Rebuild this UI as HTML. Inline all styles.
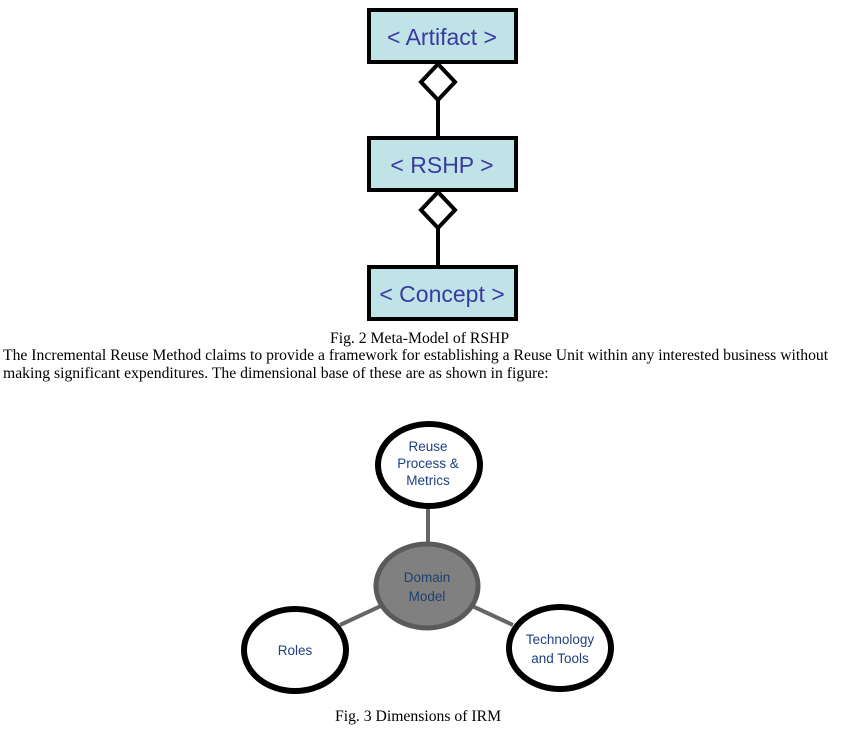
<!DOCTYPE html>
<html><head><style>
body{margin:0;width:854px;height:735px;background:#fff;position:relative;overflow:hidden;font-family:"Liberation Serif",serif;}
.t{position:absolute;font-size:15.7px;line-height:18px;color:#000;white-space:nowrap;}
</style></head><body>
<svg width="854" height="735" style="position:absolute;left:0;top:0">
<g stroke="#000" stroke-width="4" fill="#bfe3e6">
<rect x="369" y="10" width="147" height="52"/>
<rect x="369" y="138" width="147" height="52"/>
<rect x="369" y="267" width="147" height="52"/>
</g>
<g font-family="Liberation Sans, sans-serif" font-size="23" fill="#3a3aa0" text-anchor="middle">
<text x="442" y="45">&lt; Artifact &gt;</text>
<text x="442" y="173">&lt; RSHP &gt;</text>
<text x="442" y="302">&lt; Concept &gt;</text>
</g>
<g stroke="#000" stroke-width="4" fill="#fff">
<line x1="438" y1="100" x2="438" y2="138"/>
<line x1="438" y1="228" x2="438" y2="267"/>
<polygon points="438,64 455,82 438,100 421,82"/>
<polygon points="438,192 455,210 438,228 421,210"/>
</g>
<g stroke="#666" stroke-width="4">
<line x1="428" y1="506" x2="428" y2="545"/>
<line x1="340" y1="625" x2="383" y2="605"/>
<line x1="470" y1="605" x2="513" y2="625"/>
</g>
<g stroke="#000" stroke-width="6" fill="#fff">
<ellipse cx="429" cy="465" rx="51" ry="41"/>
<ellipse cx="295" cy="650" rx="51" ry="41"/>
<ellipse cx="560" cy="648" rx="51" ry="41"/>
</g>
<ellipse cx="427" cy="586" rx="51" ry="42" fill="#808080" stroke="#5a5a5a" stroke-width="5"/>
<g font-family="Liberation Sans, sans-serif" font-size="13.5" fill="#1f3f80" text-anchor="middle">
<text x="428" y="451">Reuse</text>
<text x="428" y="468">Process &amp;</text>
<text x="428" y="485">Metrics</text>
<text x="427" y="582" fill="#1f3f70">Domain</text>
<text x="427" y="601" fill="#1f3f70">Model</text>
<text x="295" y="655">Roles</text>
<text x="560" y="644">Technology</text>
<text x="560" y="663">and Tools</text>
</g>
</svg>
<div class="t" style="left:330px;top:330px">Fig. 2 Meta-Model of RSHP</div>
<div class="t" style="left:3px;top:347px">The Incremental Reuse Method claims to provide a framework for establishing a Reuse Unit within any interested business without</div>
<div class="t" style="left:3px;top:365px">making significant expenditures. The dimensional base of these are as shown in figure:</div>
<div class="t" style="left:335px;top:708px">Fig. 3 Dimensions of IRM</div>
</body></html>
